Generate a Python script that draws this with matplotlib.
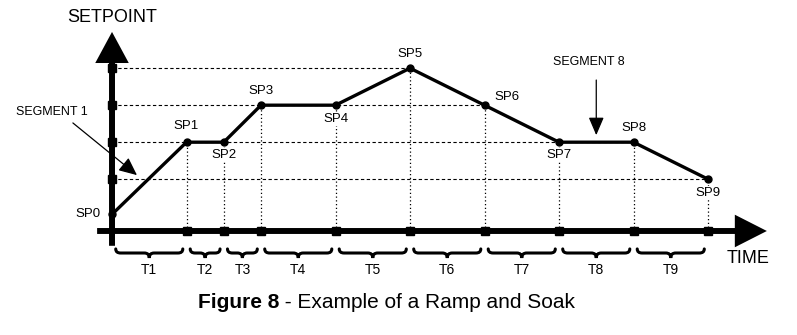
import matplotlib
matplotlib.use('Agg')
import matplotlib.pyplot as plt
import numpy as np
from matplotlib.path import Path
from matplotlib.patches import PathPatch

# Ramp and soak profile
labels = ['SP0', 'SP1', 'SP2', 'SP3', 'SP4', 'SP5', 'SP6', 'SP7', 'SP8', 'SP9']
durations = [2, 1, 1, 2, 2, 2, 2, 2, 2]          # T1..T9
setpoints = [0.45, 2.4, 2.4, 3.4, 3.4, 4.4, 3.4, 2.4, 2.4, 1.4]
seg_names = ['T1', 'T2', 'T3', 'T4', 'T5', 'T6', 'T7', 'T8', 'T9']
levels = [1.4, 2.4, 3.4, 4.4]
# label offsets in points (dx, dy, ha)
label_pos = [(-8, 0, 'right'), (0, 12, 'center'), (0, -9, 'center'), (0, 10, 'center'),
             (0, -10, 'center'), (0, 10, 'center'), (7, 6, 'left'), (0, -9, 'center'),
             (0, 10, 'center'), (0, -10, 'center')]

times = np.concatenate([[0], np.cumsum(durations)])
sp = np.array(setpoints)

FONT = 'Liberation Sans'

fig = plt.figure(figsize=(7.97, 3.35), dpi=100)
ax = fig.add_axes([0, 0, 1, 1])
ax.set_xlim(-3.007, 18.389)
ax.set_ylim(-2.811, 6.243)
ax.axis('off')

# dashed horizontal guides: from the setpoint axis to the last point at that level
for lv in levels:
    xe = times[np.isclose(sp, lv)].max()
    ax.plot([0, xe], [lv, lv], color='black', lw=0.8, ls=(0, (3, 2.2)), zorder=1)

# dotted verticals down to the time axis
for t, s in zip(times[1:], sp[1:]):
    ax.plot([t, t], [0, s], color='black', lw=0.9, ls=(0, (1, 2)), zorder=1)

# axes with arrow heads
ax.arrow(0, -0.4, 0, 5.78, width=0.16, head_width=0.9, head_length=0.84,
         length_includes_head=True, color='black', lw=0, zorder=3)
ax.arrow(-0.4, 0, 17.98, 0, width=0.16, head_width=0.88, head_length=0.86,
         length_includes_head=True, color='black', lw=0, zorder=3)
ax.plot(times[1:], np.zeros(len(times) - 1), 's', color='black', ms=5.5, zorder=4)
ax.plot(np.zeros(len(levels)), levels, 's', color='black', ms=5.5, zorder=4)

# profile
ax.plot(times, sp, color='black', lw=2.4, marker='o', ms=5, zorder=5)
for t, s, lab, (dx, dy, ha) in zip(times, sp, labels, label_pos):
    ax.annotate(lab, (t, s), xytext=(dx, dy), textcoords='offset points',
                ha=ha, va='center', fontsize=9.5, family=FONT, zorder=6,
                bbox=dict(boxstyle='square,pad=0.05', fc='white', ec='none'))

# curly braces under each interval
def brace(a, b, y0=-0.595, up=0.11, dip=0.135, d=0.13):
    m = (a + b) / 2
    verts = [(a, y0 + up), (a, y0), (a + d, y0), (m - d, y0), (m, y0), (m, y0 - dip),
             (m, y0), (m + d, y0), (b - d, y0), (b, y0), (b, y0 + up)]
    codes = [Path.MOVETO, Path.CURVE3, Path.CURVE3, Path.LINETO, Path.CURVE3, Path.CURVE3,
             Path.CURVE3, Path.CURVE3, Path.LINETO, Path.CURVE3, Path.CURVE3]
    return PathPatch(Path(verts, codes), fc='none', ec='black', lw=2.2, capstyle='round')

gap = 0.1
for a, b, name in zip(times[:-1], times[1:], seg_names):
    ax.add_patch(brace(a + gap, b - gap))
    ax.text((a + b) / 2, -1.05, name, ha='center', va='center', fontsize=10, family=FONT)

ax.text(0, 5.78, 'SETPOINT', ha='center', va='center', fontsize=13, family=FONT)
ax.text(17.07, -0.73, 'TIME', ha='center', va='center', fontsize=13, family=FONT)

# segment call-outs
ax.text(-1.61, 3.22, 'SEGMENT 1', ha='center', va='center', fontsize=9, family=FONT)
ax.annotate('', xy=(0.67, 1.51), xytext=(-1.05, 2.92),
            arrowprops=dict(arrowstyle='-|>,head_length=11,head_width=5', mutation_scale=1,
                            color='black', lw=0.9, shrinkA=0, shrinkB=0))
seg8_x = (times[7] + times[8]) / 2
ax.text(seg8_x - 0.2, 4.57, 'SEGMENT 8', ha='center', va='center', fontsize=9, family=FONT)
ax.annotate('', xy=(seg8_x, sp[7] + 0.19), xytext=(seg8_x, 4.08),
            arrowprops=dict(arrowstyle='-|>,head_length=11,head_width=4.7', mutation_scale=1,
                            color='black', lw=0.9, shrinkA=0, shrinkB=0))

# caption
fig.text(279 / 797, 1 - 303 / 335, 'Figure 8', ha='right', va='center', fontsize=15,
         fontweight='bold', family=FONT)
fig.text(279 / 797, 1 - 303 / 335, ' - Example of a Ramp and Soak', ha='left', va='center',
         fontsize=15, family=FONT)

fig.savefig('out.png', dpi=100, facecolor='white')
